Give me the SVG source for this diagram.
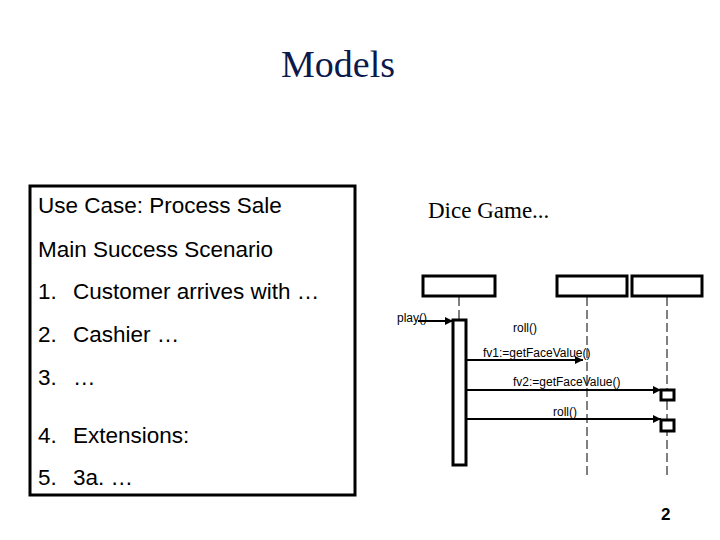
<svg xmlns="http://www.w3.org/2000/svg" width="720" height="540" viewBox="0 0 720 540">
<defs>
<marker id="ah" viewBox="0 0 10 10" refX="10" refY="5" markerWidth="4" markerHeight="4" markerUnits="strokeWidth" orient="auto">
<path d="M0,0 L10,5 L0,10 z" fill="#000"/>
</marker>
<style>
.title{font-family:"Liberation Serif","Times New Roman",serif;font-size:38px;fill:#0c1a4b}
.serif{font-family:"Liberation Serif","Times New Roman",serif;font-size:23px;fill:#000}
.uc{font-family:"Liberation Sans",Arial,sans-serif;font-size:22.5px;fill:#000}
.sm{font-family:"Liberation Sans",Arial,sans-serif;font-size:12px;fill:#000}
.pg{font-family:"Liberation Sans",Arial,sans-serif;font-size:17px;font-weight:bold;fill:#000}
.box{fill:#fff;stroke:#000;stroke-width:3}
.life{fill:none;stroke:#000;stroke-width:1;stroke-dasharray:9 4}
.msg{fill:none;stroke:#000;stroke-width:2;marker-end:url(#ah)}
</style>
</defs>
<rect width="720" height="540" fill="#fff"/>
<text class="title" x="338" y="77" text-anchor="middle">Models</text>

<g id="usecase">
<rect x="30" y="186" width="325" height="309" fill="#fff" stroke="#000" stroke-width="3"/>
<text class="uc" x="38" y="213">Use Case: Process Sale</text>
<text class="uc" x="38" y="257">Main Success Scenario</text>
<text class="uc" x="38" y="299">1.</text><text class="uc" x="73" y="299">Customer arrives with …</text>
<text class="uc" x="38" y="342">2.</text><text class="uc" x="73" y="342">Cashier …</text>
<text class="uc" x="38" y="385">3.</text><text class="uc" x="73" y="385">…</text>
<text class="uc" x="38" y="443">4.</text><text class="uc" x="73" y="443">Extensions:</text>
<text class="uc" x="38" y="485">5.</text><text class="uc" x="73" y="485">3a. …</text>
</g>

<text class="serif" x="428" y="218">Dice Game...</text>

<g id="obj1"><rect class="box" x="423" y="276" width="72" height="20"/></g>
<g id="obj2"><rect class="box" x="557" y="276" width="70" height="20"/></g>
<g id="obj3"><rect class="box" x="632" y="276" width="70" height="20"/></g>

<g id="lifelines">
<line class="life" x1="459" y1="297" x2="459" y2="320"/>
<line class="life" x1="587" y1="297" x2="587" y2="477"/>
<line class="life" x1="667" y1="297" x2="667" y2="477"/>
</g>

<g id="activation"><rect class="box" x="453" y="320" width="13" height="145"/></g>
<g id="act3a"><rect class="box" x="661" y="390" width="13" height="10"/></g>
<g id="act3b"><rect class="box" x="661" y="420" width="13" height="11"/></g>

<g id="connectors">
<line class="msg" x1="418" y1="321" x2="453" y2="321"/>
<line class="msg" x1="466" y1="360" x2="583" y2="360"/>
<line class="msg" x1="466" y1="390" x2="661" y2="390"/>
<line class="msg" x1="466" y1="419" x2="661" y2="419"/>
</g>

<g id="labels">
<text class="sm" x="397" y="322">play()</text>
<text class="sm" x="513" y="332">roll()</text>
<text class="sm" x="483" y="357">fv1:=getFaceValue()</text>
<text class="sm" x="513" y="386">fv2:=getFaceValue()</text>
<text class="sm" x="553" y="416">roll()</text>
</g>

<text class="pg" x="661" y="520">2</text>
</svg>
